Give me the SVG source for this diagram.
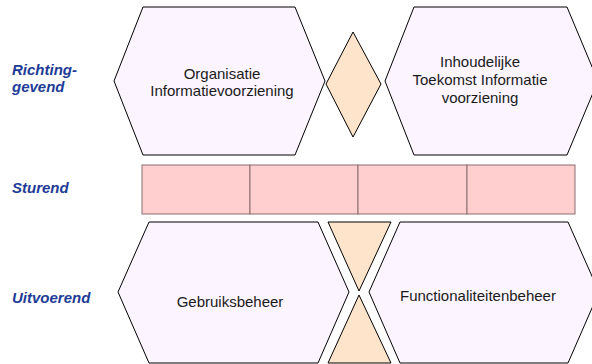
<svg xmlns="http://www.w3.org/2000/svg" width="592" height="364" viewBox="0 0 592 364">
<style>
.hex{fill:#FCF5FF;stroke:#000;stroke-width:1}
.pe{fill:#FFE4CC;stroke:#000;stroke-width:1}
.cell{fill:#FFCFCF;stroke:#8A6E6E;stroke-width:1}
.t{font-family:"Liberation Sans",Arial,sans-serif;font-size:15px;fill:#1a1a1a;text-anchor:middle}
.lbl{font-family:"Liberation Sans",Arial,sans-serif;font-size:15px;font-weight:bold;font-style:italic;fill:#1E3C96}
</style>
<rect width="592" height="364" fill="#fff"/>
<g id="labels">
<text class="lbl" x="12" y="75">Richting-</text>
<text class="lbl" x="12" y="92">gevend</text>
<text class="lbl" x="12" y="193">Sturend</text>
<text class="lbl" x="12" y="303">Uitvoerend</text>
</g>
<g id="org">
<polygon class="hex" points="143,7 295,7 325,81 295,155 143,155 114,81"/>
<text class="t" x="222" y="79">Organisatie</text>
<text class="t" x="222" y="96">Informatievoorziening</text>
</g>
<g id="diamond">
<polygon class="pe" points="353,32 381,84 353,137 326,84"/>
</g>
<g id="inhoud">
<polygon class="hex" points="414,7 567,7 598,81 567,155 414,155 385,81"/>
<text class="t" x="480" y="67">Inhoudelijke</text>
<text class="t" x="480" y="85">Toekomst Informatie</text>
<text class="t" x="480" y="103">voorziening</text>
</g>
<g id="sturend">
<rect class="cell" x="142" y="165" width="108" height="49"/>
<rect class="cell" x="250" y="165" width="108" height="49"/>
<rect class="cell" x="358" y="165" width="109" height="49"/>
<rect class="cell" x="467" y="165" width="108" height="49"/>
</g>
<g id="gebruik">
<polygon class="hex" points="149,222 318,222 349,292 318,363 149,363 118,292"/>
<text class="t" x="230" y="307">Gebruiksbeheer</text>
</g>
<g id="hourglass">
<polygon class="pe" points="328,222 391,222 359,291"/>
<polygon class="pe" points="359,295 391,363 328,363"/>
</g>
<g id="functioneel">
<polygon class="hex" points="400,222 568,222 599,292 568,363 400,363 369,292"/>
<text class="t" x="478" y="301">Functionaliteitenbeheer</text>
</g>
<g id="connectors"></g>
</svg>
